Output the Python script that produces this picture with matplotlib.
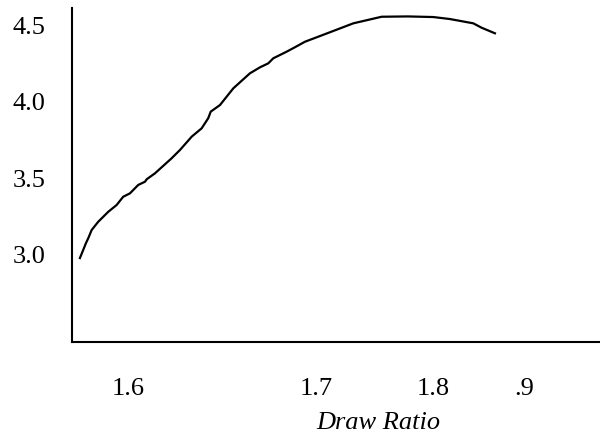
import matplotlib.pyplot as plt

plt.rcParams['font.family'] = ['Liberation Serif', 'DejaVu Serif']

# curve (x in the chart's own draw-ratio scale)
draw_ratio = [1.5636, 1.5661, 1.5682, 1.5699, 1.5725, 1.5775, 1.5851, 1.5914,
              1.5964, 1.6015, 1.6078, 1.6129, 1.6142, 1.6205, 1.6331, 1.6394,
              1.6483, 1.6558, 1.6608, 1.6627, 1.6697, 1.6798, 1.6924, 1.7000,
              1.7063, 1.7101, 1.7202, 1.7265, 1.7341, 1.7430, 1.7555, 1.7707,
              1.7922, 1.8120, 1.8313, 1.8439, 1.8616, 1.8680, 1.8780]
value = [2.980, 3.033, 3.078, 3.109, 3.163, 3.217, 3.282, 3.326,
         3.380, 3.402, 3.457, 3.478, 3.494, 3.533, 3.631, 3.685,
         3.772, 3.826, 3.892, 3.935, 3.978, 4.087, 4.185, 4.224,
         4.250, 4.283, 4.326, 4.355, 4.391, 4.420, 4.461, 4.511,
         4.554, 4.556, 4.552, 4.539, 4.511, 4.482, 4.446]

x_tick_pos = [1.6, 1.7424, 1.8311, 1.9]
x_tick_labels = ['1.6', '1.7', '1.8', '.9']
y_ticks = [3.0, 3.5, 4.0, 4.5]
y_tick_labels = ['3.0', '3.5', '4.0', '4.5']

fig = plt.figure(figsize=(6, 4.37), dpi=100)
ax = fig.add_axes([0.12, 0.2174, 0.88, 0.7643])

ax.plot(draw_ratio, value, color='black', linewidth=1.6)

ax.set_xlim(1.5576, 1.9576)
ax.set_ylim(2.4325, 4.611)

ax.set_xticks(x_tick_pos)
ax.set_xticklabels(x_tick_labels, fontsize=19)
ax.set_yticks(y_ticks)
ax.set_yticklabels(y_tick_labels, fontsize=19)
ax.tick_params(axis='x', length=0, pad=26)
ax.tick_params(axis='y', length=0, pad=19)

ax.spines['top'].set_visible(False)
ax.spines['right'].set_visible(False)
ax.spines['left'].set_linewidth(1.5)
ax.spines['bottom'].set_linewidth(1.5)

ax.set_xlabel('Draw Ratio', fontsize=19, style='italic')
ax.xaxis.set_label_coords(0.58, -0.21)

fig.savefig('out.png', dpi=100)
